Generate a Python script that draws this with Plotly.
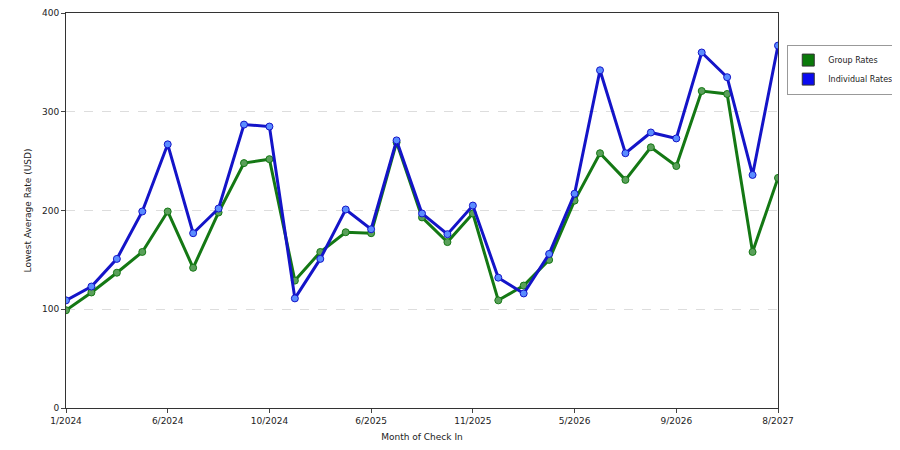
import plotly.graph_objects as go

months = ["1/2024","2/2024","3/2024","4/2024","6/2024","7/2024","8/2024","9/2024","10/2024",
          "11/2024","12/2024","3/2025","6/2025","7/2025","8/2025","9/2025","11/2025","12/2025",
          "1/2026","3/2026","5/2026","6/2026","7/2026","8/2026","9/2026","10/2026","11/2026","6/2027","8/2027"]
group = [99,117,137,158,199,142,198,248,252,129,158,178,177,269,193,168,197,109,124,150,210,258,231,264,245,321,318,158,233]
indiv = [109,123,151,199,267,177,202,287,285,111,151,201,181,271,197,176,205,132,116,156,217,342,258,279,273,360,335,236,367]
ticks = [months[i] for i in range(0, len(months), 4)]

fig = go.Figure()
fig.add_trace(go.Scatter(x=months, y=group, name="Group Rates", mode="lines+markers", showlegend=False,
    line=dict(color="#147814", width=3),
    marker=dict(size=7, color="#5aa05a", line=dict(color="#147814", width=1))))
fig.add_trace(go.Scatter(x=months, y=indiv, name="Individual Rates", mode="lines+markers", showlegend=False,
    line=dict(color="#1414c8", width=3),
    marker=dict(size=7, color="#5a8cff", line=dict(color="#1414c8", width=1))))
for name, col in [("Group Rates", "#0a7a0a"), ("Individual Rates", "#0a0af0")]:
    fig.add_trace(go.Scatter(x=[None], y=[None], name=name, mode="markers",
        marker=dict(symbol="square", size=12, color=col, line=dict(color="#333", width=1))))
fig.update_layout(
    width=900, height=450, margin=dict(l=58, r=130, t=5, b=50, autoexpand=False),
    plot_bgcolor="white", paper_bgcolor="white",
    font=dict(family="DejaVu Sans", size=9, color="#222"),
    legend=dict(x=1.013, y=0.92, xanchor="left", yanchor="top", bordercolor="#999",
                borderwidth=1, font=dict(size=8), tracegroupgap=2),
    xaxis=dict(type="category", tickvals=ticks, ticktext=ticks, showgrid=False, automargin=False,
               showline=True, linecolor="#333", mirror=True, ticks="outside", ticklen=4,
               range=[0, len(months)-1],
               title=dict(text="Month of Check In", font=dict(size=9), standoff=8)),
    yaxis=dict(range=[0, 400], dtick=100, showgrid=True, gridcolor="#ddd", griddash="dash",
               automargin=False,
               showline=True, linecolor="#333", mirror=True, ticks="outside", ticklen=4,
               zeroline=False, title=dict(text="Lowest Average Rate (USD)", font=dict(size=9), standoff=8)),
)
fig.write_html("out.html")
